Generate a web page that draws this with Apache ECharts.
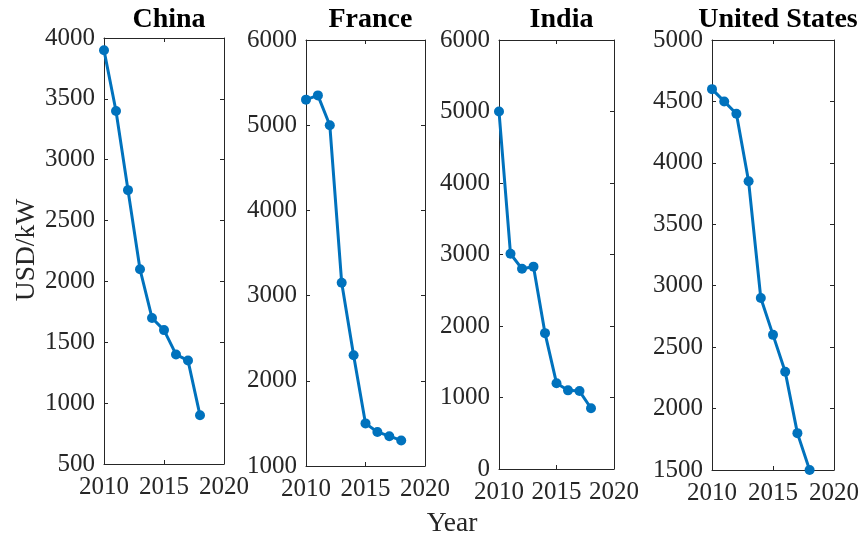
<!DOCTYPE html>
<html>
<head>
<meta charset="utf-8">
<title>Installed cost, USD/kW</title>
<script src="https://cdn.jsdelivr.net/npm/echarts@6/dist/echarts.min.js"></script>
<style>
  html, body { margin: 0; padding: 0; background: #fff; }
  #chart { width: 863px; height: 538px; }
</style>
</head>
<body>
<div id="chart"></div>
<script>
// Years shared by every panel
const years = [2010, 2011, 2012, 2013, 2014, 2015, 2016, 2017, 2018];

// Installed cost per country (USD/kW)
const china        = [3900, 3400, 2750, 2100, 1700, 1600, 1400, 1350, 900];
const france       = [5300, 5350, 5000, 3150, 2300, 1500, 1400, 1350, 1300];
const india        = [5000, 3010, 2800, 2830, 1900, 1200, 1100, 1090, 850];
const unitedStates = [4600, 4500, 4400, 3850, 2900, 2600, 2300, 1800, 1500];

const countries = ['China', 'France', 'India', 'United States'];
const seriesValues = [china, france, india, unitedStates];

// Axis ranges per panel: [min, max, interval]
const yRanges = [
  [500, 4000, 500],
  [1000, 6000, 1000],
  [0, 6000, 1000],
  [1500, 5000, 500]
];
const xRange = [2010, 2020, 5];

// Panel boxes in pixels: left, top, width, height
const panels = [
  { left: 104, top: 38, width: 120, height: 426 },
  { left: 306, top: 40, width: 119, height: 426 },
  { left: 499, top: 40, width: 115, height: 429 },
  { left: 712, top: 40, width: 122, height: 430 }
];

const FONT = 'Liberation Serif';
const AXIS_COLOR = '#262626';
const LINE_COLOR = '#0072BD';

const grids = [], xAxes = [], yAxes = [], series = [], titles = [];

panels.forEach((p, i) => {
  grids.push({ left: p.left, top: p.top, width: p.width, height: p.height, containLabel: false });

  const tick = { show: true, inside: true, length: 4, lineStyle: { color: AXIS_COLOR, width: 1 } };
  const line = { show: true, onZero: false, lineStyle: { color: AXIS_COLOR, width: 1 } };
  const labelBase = { show: true, color: AXIS_COLOR, fontFamily: FONT, fontSize: 25,
                      showMinLabel: true, showMaxLabel: true, formatter: v => String(v) };

  // bottom and top x axes
  xAxes.push({ type: 'value', gridIndex: i, position: 'bottom', min: xRange[0], max: xRange[1],
               interval: xRange[2], axisLine: line, axisTick: tick,
               axisLabel: Object.assign({ margin: 11 }, labelBase),
               splitLine: { show: false } });
  xAxes.push({ type: 'value', gridIndex: i, position: 'top', min: xRange[0], max: xRange[1],
               interval: xRange[2], axisLine: line, axisTick: tick, axisLabel: { show: false },
               splitLine: { show: false } });

  const yr = yRanges[i];
  yAxes.push({ type: 'value', gridIndex: i, position: 'left', min: yr[0], max: yr[1],
               interval: yr[2], axisLine: line, axisTick: tick,
               axisLabel: Object.assign({ margin: 9 }, labelBase),
               splitLine: { show: false } });
  yAxes.push({ type: 'value', gridIndex: i, position: 'right', min: yr[0], max: yr[1],
               interval: yr[2], axisLine: line, axisTick: tick, axisLabel: { show: false },
               splitLine: { show: false } });

  series.push({
    type: 'line',
    name: countries[i],
    xAxisIndex: 2 * i,
    yAxisIndex: 2 * i,
    data: years.map((y, k) => [y, seriesValues[i][k]]),
    symbol: 'circle',
    symbolSize: 10,
    clip: false,
    itemStyle: { color: LINE_COLOR },
    lineStyle: { color: LINE_COLOR, width: 3 }
  });

  titles.push({
    text: countries[i],
    left: p.left + p.width / 2,
    top: 1,
    textAlign: 'center',
    textStyle: { fontFamily: FONT, fontSize: 28, fontWeight: 'bold', color: '#000' }
  });
});

const chart = echarts.init(document.getElementById('chart'), null, { renderer: 'canvas' });
chart.setOption({
  animation: false,
  backgroundColor: '#fff',
  title: titles,
  grid: grids,
  xAxis: xAxes,
  yAxis: yAxes,
  series: series,
  graphic: [
    {
      type: 'text',
      x: 27, y: 250,
      rotation: Math.PI / 2,
      style: { text: 'USD/kW', fontFamily: FONT, fontSize: 27.5, fill: AXIS_COLOR,
               textAlign: 'center', textVerticalAlign: 'middle' }
    },
    {
      type: 'text',
      x: 452, y: 524,
      style: { text: 'Year', fontFamily: FONT, fontSize: 27.5, fill: AXIS_COLOR,
               textAlign: 'center', textVerticalAlign: 'middle' }
    }
  ]
});
</script>
</body>
</html>
